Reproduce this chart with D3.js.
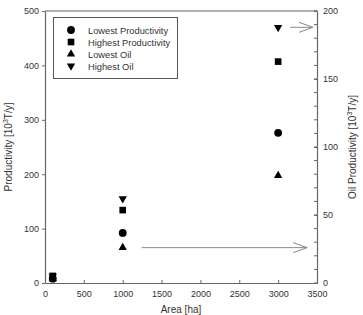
<!DOCTYPE html>
<html>
<head>
<meta charset="utf-8">
<script src="https://cdn.jsdelivr.net/npm/d3@7"></script>
<style>
  body { margin: 0; background: #fff; }
  svg { font-family: "Liberation Sans", Arial, sans-serif; }
</style>
</head>
<body>
<svg id="chart" width="363" height="315"></svg>
<script>
// areas [ha]
const areas = [100, 1000, 3000];
// left axis, productivity [10^3 T/y]
const lowestProductivity = [8, 92, 276];
const highestProductivity = [13, 134, 407];
// right axis, oil productivity [10^3 T/y]
const lowestOil = [3, 26, 79];
const highestOil = [5, 62, 188];

const xTicks = [0, 500, 1000, 1500, 2000, 2500, 3000, 3500];
const yTicks = [0, 100, 200, 300, 400, 500];
const y2Ticks = [0, 50, 100, 150, 200];
const y2Minor = d3.range(0, 201, 10);

const series = [
  { name: 'Lowest Productivity', values: lowestProductivity, axis: 'left', symbol: d3.symbolCircle, size: 48 },
  { name: 'Highest Productivity', values: highestProductivity, axis: 'left', symbol: d3.symbolSquare, size: 44 },
  { name: 'Lowest Oil', values: lowestOil, axis: 'right', symbol: d3.symbolTriangle, size: 30 },
  { name: 'Highest Oil', values: highestOil, axis: 'right', symbol: d3.symbolTriangle, size: 30, flip: true }
];

const svg = d3.select('#chart');
const width = 363, height = 315;
const margin = { left: 45, right: 46, top: 11, bottom: 32 };
const axisColor = '#666';
const textColor = '#333';

const x = d3.scaleLinear().domain([0, 3500]).range([margin.left, width - margin.right]);
const y = d3.scaleLinear().domain([0, 500]).range([height - margin.bottom, margin.top]);
const y2 = d3.scaleLinear().domain([0, 200]).range([height - margin.bottom, margin.top]);

// frame top line
svg.append('line')
  .attr('x1', margin.left).attr('x2', width - margin.right)
  .attr('y1', margin.top).attr('y2', margin.top)
  .attr('stroke', axisColor).attr('stroke-width', 1.2);

function styleAxis(g) {
  g.select('.domain').attr('stroke', axisColor).attr('stroke-width', 1.2);
  g.selectAll('.tick line').attr('stroke', axisColor);
  g.selectAll('.tick text').attr('fill', textColor).attr('font-size', 9)
    .attr('font-family', '"Liberation Sans", Arial, sans-serif');
}

svg.append('g')
  .attr('transform', `translate(0,${height - margin.bottom})`)
  .call(d3.axisBottom(x).tickValues(xTicks).tickFormat(d3.format('d'))
    .tickSizeInner(-3).tickSizeOuter(0).tickPadding(8))
  .call(styleAxis);

svg.append('g')
  .attr('transform', `translate(${margin.left},0)`)
  .call(d3.axisLeft(y).tickValues(yTicks).tickSizeInner(3).tickSizeOuter(0).tickPadding(3))
  .call(styleAxis);

const right = svg.append('g')
  .attr('transform', `translate(${width - margin.right},0)`);
right.call(d3.axisRight(y2).tickValues(y2Ticks).tickSizeInner(-3).tickSizeOuter(0).tickPadding(6))
  .call(styleAxis);
right.append('g').selectAll('line').data(y2Minor).enter().append('line')
  .attr('x1', -3).attr('x2', 1)
  .attr('y1', d => y2(d)).attr('y2', d => y2(d))
  .attr('stroke', axisColor);

// axis titles
svg.append('text')
  .attr('transform', `translate(12,${(margin.top + height - margin.bottom) / 2}) rotate(-90)`)
  .attr('text-anchor', 'middle').attr('font-size', 10).attr('fill', textColor)
  .call(t => {
    t.append('tspan').text('Productivity [10');
    t.append('tspan').attr('font-size', 7).attr('dy', -4).text('3');
    t.append('tspan').attr('dy', 4).text('T/y]');
  });

svg.append('text')
  .attr('transform', `translate(356,${(margin.top + height - margin.bottom) / 2}) rotate(-90)`)
  .attr('text-anchor', 'middle').attr('font-size', 10).attr('fill', textColor)
  .call(t => {
    t.append('tspan').text('Oil Productivity [10');
    t.append('tspan').attr('font-size', 7).attr('dy', -4).text('3');
    t.append('tspan').attr('dy', 4).text('T/y]');
  });

svg.append('text')
  .attr('x', (margin.left + width - margin.right) / 2).attr('y', 312.5)
  .attr('text-anchor', 'middle').attr('font-size', 10).attr('fill', textColor)
  .text('Area [ha]');

// arrows pointing to the oil axis
const arrowColor = '#888';
function arrow(x1, x2, yy) {
  const g = svg.append('g').attr('stroke', arrowColor).attr('fill', 'none').attr('stroke-width', 1);
  g.append('line').attr('x1', x1).attr('x2', x2).attr('y1', yy).attr('y2', yy);
  g.append('path').attr('d', `M${x2 - 14},${yy - 5}L${x2},${yy}L${x2 - 14},${yy + 5}`);
}
arrow(x(1000) + 19, x(3000) + 29, y2(lowestOil[1]));
arrow(x(3000) + 12, x(3500) - 4, y2(highestOil[2]));

// markers
series.forEach(s => {
  const scale = s.axis === 'left' ? y : y2;
  const sym = d3.symbol().type(s.symbol).size(s.size);
  svg.append('g').selectAll('path').data(s.values).enter().append('path')
    .attr('d', sym)
    .attr('transform', (d, i) => `translate(${x(areas[i])},${scale(d)})` + (s.flip ? ' rotate(180)' : ''))
    .attr('fill', '#000');
});

// legend
const legend = svg.append('g');
legend.append('rect')
  .attr('x', 53.5).attr('y', 17.5).attr('width', 124).attr('height', 61)
  .attr('fill', '#fff').attr('stroke', '#555');
series.forEach((s, i) => {
  const ly = 30 + i * 12;
  legend.append('path')
    .attr('d', d3.symbol().type(s.symbol).size(s.size)())
    .attr('transform', `translate(71,${ly})` + (s.flip ? ' rotate(180)' : ''))
    .attr('fill', '#000');
  legend.append('text')
    .attr('x', 88).attr('y', ly + 3.5)
    .attr('font-size', 9.3).attr('fill', textColor)
    .text(s.name);
});
</script>
</body>
</html>
